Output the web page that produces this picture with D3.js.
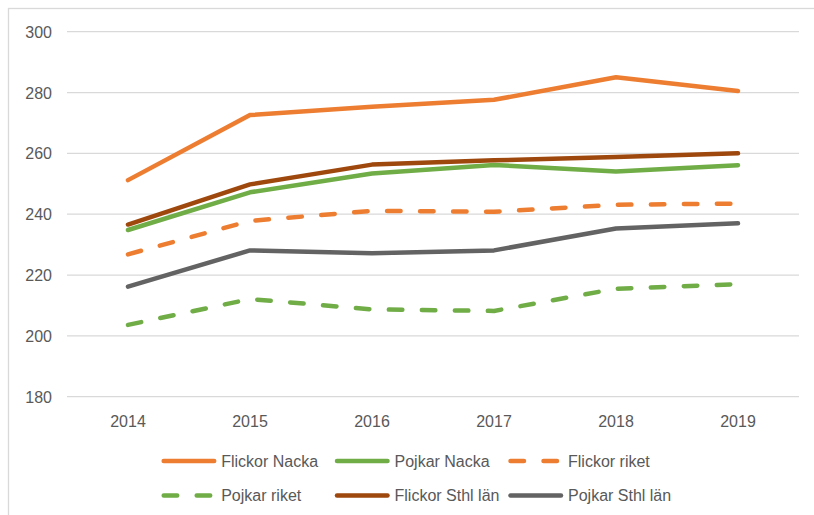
<!DOCTYPE html>
<html>
<head>
<meta charset="utf-8">
<script src="https://cdn.jsdelivr.net/npm/d3@7"></script>
<style>
  html, body { margin: 0; padding: 0; background: #fff; }
  svg { display: block; }
  text { font-family: "Liberation Sans", Arial, sans-serif; fill: #595959; }
</style>
</head>
<body>
<svg id="chart" width="814" height="515"></svg>
<script>
const years = ["2014", "2015", "2016", "2017", "2018", "2019"];
const yTicks = [180, 200, 220, 240, 260, 280, 300];

const flickorNacka = [251.2, 272.6, 275.3, 277.6, 285.0, 280.5];
const pojkarNacka  = [234.8, 247.2, 253.4, 256.2, 254.0, 256.1];
const flickorRiket = [226.8, 237.8, 241.1, 240.8, 243.1, 243.5];
const pojkarRiket  = [203.6, 212.1, 208.7, 208.2, 215.5, 217.0];
const flickorSthl  = [236.6, 249.8, 256.3, 257.7, 258.8, 260.0];
const pojkarSthl   = [216.2, 228.1, 227.2, 228.1, 235.3, 237.0];

const seriesNames = ["Flickor Nacka", "Pojkar Nacka", "Flickor riket", "Pojkar riket", "Flickor Sthl län", "Pojkar Sthl län"];

const series = [
  { name: seriesNames[0], values: flickorNacka, color: "#ED7D31", dashed: false },
  { name: seriesNames[1], values: pojkarNacka,  color: "#70AD47", dashed: false },
  { name: seriesNames[2], values: flickorRiket, color: "#ED7D31", dashed: true },
  { name: seriesNames[3], values: pojkarRiket,  color: "#70AD47", dashed: true },
  { name: seriesNames[4], values: flickorSthl,  color: "#9E480E", dashed: false },
  { name: seriesNames[5], values: pojkarSthl,   color: "#636363", dashed: false }
];

const svg = d3.select("#chart");

// outer frame
svg.append("rect")
  .attr("x", 8.5).attr("y", 8.5)
  .attr("width", 830).attr("height", 530)
  .attr("fill", "none").attr("stroke", "#d9d9d9").attr("stroke-width", 1.3);

const x = d3.scaleBand().domain(years).range([67, 799]);
const y = d3.scaleLinear().domain([180, 300]).range([396.7, 31.7]);

// gridlines
svg.append("g").selectAll("line").data(yTicks).join("line")
  .attr("x1", 67).attr("x2", 799)
  .attr("y1", d => y(d)).attr("y2", d => y(d))
  .attr("stroke", "#d9d9d9").attr("stroke-width", 1.3);

// y axis labels
const yAxis = d3.axisLeft(y).tickValues(yTicks).tickSize(0).tickPadding(0);
const gy = svg.append("g").attr("transform", "translate(52,0)").call(yAxis);
gy.select(".domain").remove();
gy.selectAll("text").attr("font-size", 16).style("font-family", "'Liberation Sans', Arial, sans-serif").attr("fill", "#595959").attr("dy", "0.35em");

// x axis labels
const xAxis = d3.axisBottom(x).tickSize(0).tickPadding(0);
const gx = svg.append("g").attr("transform", "translate(0,415)").call(xAxis);
gx.select(".domain").remove();
gx.selectAll("text").attr("font-size", 16).style("font-family", "'Liberation Sans', Arial, sans-serif").attr("fill", "#595959").attr("dy", "0.35em").attr("y", 6);

// lines
const line = d3.line()
  .x((d, i) => x(years[i]) + x.bandwidth() / 2)
  .y(d => y(d));

// draw order: solid lines, etc. (Excel draws in series order)
svg.append("g").selectAll("path").data(series).join("path")
  .attr("d", d => line(d.values))
  .attr("fill", "none")
  .attr("stroke", d => d.color)
  .attr("stroke-width", 4.5)
  .attr("stroke-linejoin", "round")
  .attr("stroke-linecap", "round")
  .attr("stroke-dasharray", d => d.dashed ? "13.5,19.5" : null);

// legend
const legX = [161.7, 335, 508.5];
const legY = [461, 495.5];
const leg = svg.append("g").selectAll("g").data(series).join("g")
  .attr("transform", (d, i) => `translate(${legX[i % 3]},${legY[Math.floor(i / 3)]})`);
leg.append("line")
  .attr("x1", 2).attr("x2", 52.5).attr("y1", 0).attr("y2", 0)
  .attr("stroke", d => d.color)
  .attr("stroke-width", 4.5)
  .attr("stroke-linecap", "round")
  .attr("stroke-dasharray", d => d.dashed ? "13.5,19.5" : null);
leg.append("text")
  .attr("x", 59.5).attr("y", 0).attr("dy", "0.35em")
  .attr("font-size", 16)
  .text(d => d.name);
</script>
</body>
</html>
